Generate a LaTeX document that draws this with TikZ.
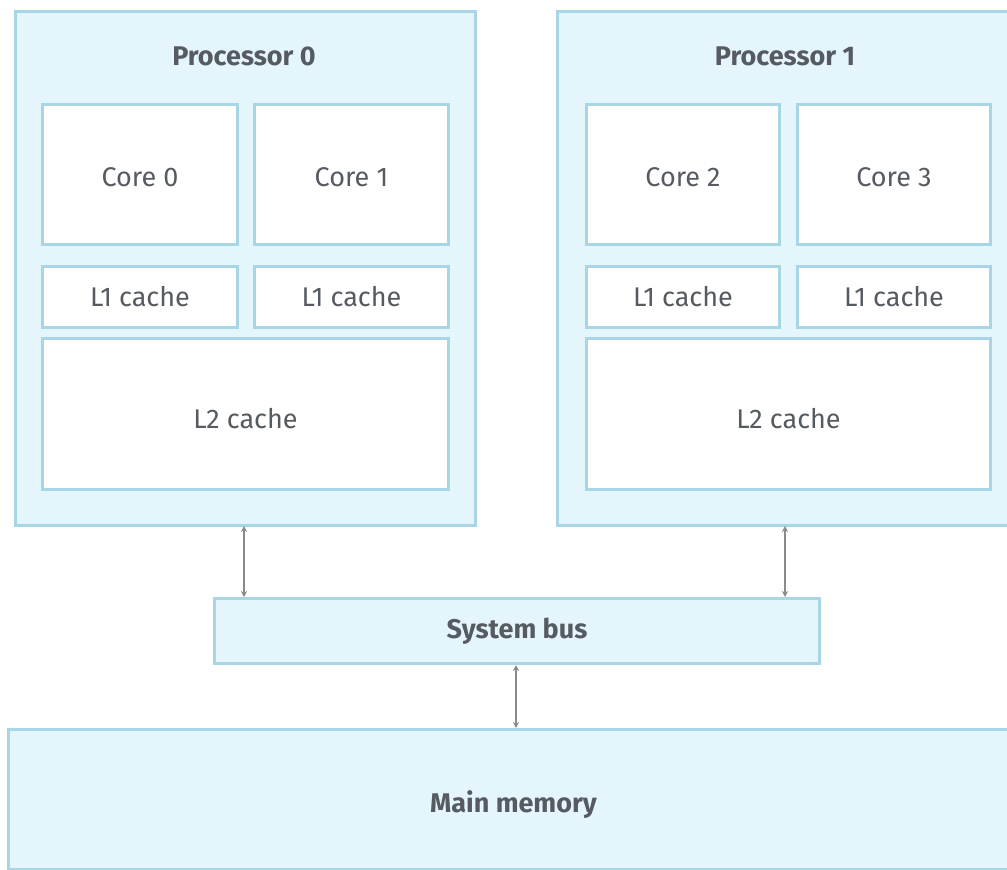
\documentclass[tikz,border=0pt]{standalone}
\usepackage{fontspec}
\setmainfont{Fira Sans}
\usetikzlibrary{arrows.meta}
\definecolor{boxfill}{HTML}{E4F5FB}
\definecolor{boxline}{HTML}{A8D6E6}
\definecolor{txt}{HTML}{555B60}
\definecolor{arr}{HTML}{8A8A8A}
\tikzset{
  x=1pt,y=-1pt,
  outer/.style={draw=boxline,fill=boxfill,line width=3pt},
  inner/.style={draw=boxline,fill=white,line width=3pt},
  lbl/.style={text=txt,font=\fontsize{27}{30}\selectfont},
  title/.style={text=txt,font=\fontsize{27}{30}\selectfont\bfseries},
  link/.style={draw=arr,line width=1.5pt,{Stealth[length=6pt,width=6pt]}-{Stealth[length=6pt,width=6pt]}}
}
\begin{document}
\begin{tikzpicture}
\useasboundingbox (0,0) rectangle (1007,870);
\fill[white] (0,0) rectangle (1007,870);
% Processor 0
\node[outer,minimum width=460,minimum height=514,anchor=north west] (p0) at (14,10) {};
\node[title] (p0t) at (244,56) {Processor 0};
\node[inner,minimum width=195,minimum height=140,anchor=north west] (c0) at (41,103) {};
\node[lbl] at ([yshift=-3]c0) {Core 0};
\node[inner,minimum width=194,minimum height=140,anchor=north west] (c1) at (253,103) {};
\node[lbl] at ([yshift=-3]c1) {Core 1};
\node[inner,minimum width=195,minimum height=61,anchor=north west] (l10) at (41,265) {};
\node[lbl] at (l10) {L1 cache};
\node[inner,minimum width=194,minimum height=61,anchor=north west] (l11) at (253,265) {};
\node[lbl] at (l11) {L1 cache};
\node[inner,minimum width=406,minimum height=151,anchor=north west] (l20) at (41,337) {};
\node[lbl] at ([yshift=-5]l20) {L2 cache};
% Processor 1
\node[outer,minimum width=460,minimum height=514,anchor=north west] (p1) at (556,10) {};
\node[title] (p1t) at (785,56) {Processor 1};
\node[inner,minimum width=193,minimum height=140,anchor=north west] (c2) at (585,103) {};
\node[lbl] at ([yshift=-3]c2) {Core 2};
\node[inner,minimum width=193,minimum height=140,anchor=north west] (c3) at (796,103) {};
\node[lbl] at ([yshift=-3]c3) {Core 3};
\node[inner,minimum width=193,minimum height=61,anchor=north west] (l12) at (585,265) {};
\node[lbl] at (l12) {L1 cache};
\node[inner,minimum width=193,minimum height=61,anchor=north west] (l13) at (796,265) {};
\node[lbl] at (l13) {L1 cache};
\node[inner,minimum width=404,minimum height=151,anchor=north west] (l21) at (585,337) {};
\node[lbl] at ([yshift=-5]l21) {L2 cache};
% System bus
\node[outer,minimum width=605,minimum height=65,anchor=north west] (bus) at (213,597) {};
\node[title] at (bus) {System bus};
% Main memory
\node[outer,minimum width=1010,minimum height=140,anchor=north west] (mem) at (7,728) {};
\node[title] at ([yshift=-5]mem) {Main memory};
% connectors
\coordinate (a0) at (244,526);
\coordinate (b0) at (244,597);
\coordinate (a1) at (785,526);
\coordinate (b1) at (785,597);
\draw[link] (a0) -- (b0);
\draw[link] (a1) -- (b1);
\draw[link] (bus.south -| 516,0) -- (mem.north -| 516,0);
\end{tikzpicture}
\end{document}
